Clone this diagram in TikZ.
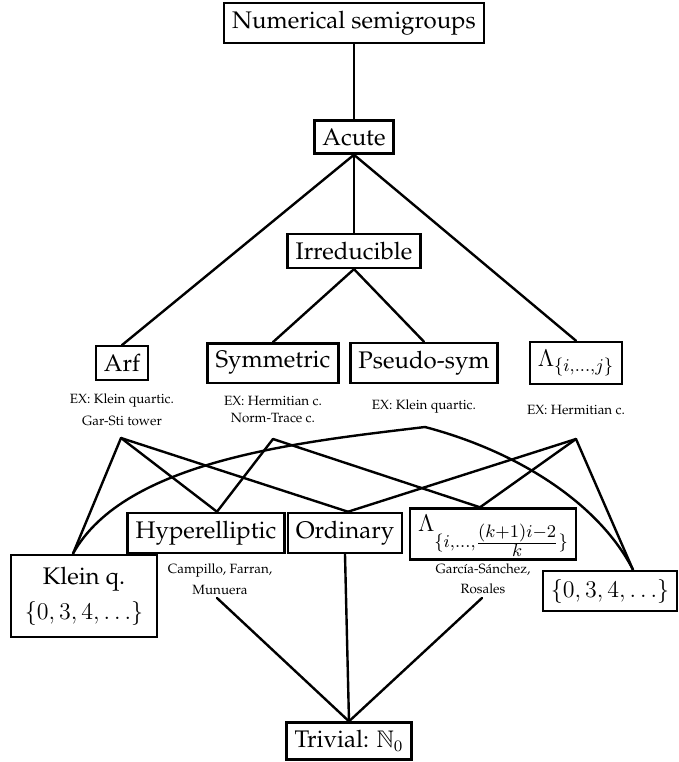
\documentclass[tikz,border=0pt]{standalone}
\usepackage[T1]{fontenc}
\usepackage{palatino}
\usepackage{amssymb}
\begin{document}
\begin{tikzpicture}[x=0.5pt,y=-0.5pt,
  box/.style={draw,line width=1.2pt,inner xsep=4pt,inner ysep=4pt,font=\fontsize{12}{15}\selectfont},
  note/.style={align=center,inner sep=0pt},
  link/.style={line width=1.2pt,line cap=round,line join=round},
  thinlink/.style={line width=0.7pt}]
\useasboundingbox (0,0) rectangle (679,762);
% main boxes
\node[box] (ns) at (354,23) {Numerical semigroups};
\node[box] (acute) at (354,137) {Acute};
\node[box] (irr) at (354,251) {Irreducible};
\node[box] (arf) at (122,363) {Arf};
\node[box] (sym) at (273,363) {Symmetric};
\node[box] (psym) at (424,363) {Pseudo-sym};
\node[box,font=\fontsize{12.5}{15}\selectfont] (lij) at (576,363) {$\Lambda_{\{i,\dots,j\}}$};
\node[box] (hyp) at (206,533) {Hyperelliptic};
\node[box] (ord) at (345,533) {Ordinary};
\node[box,inner ysep=3pt,text height=8.5pt,text depth=11pt,font=\fontsize{12.5}{15}\selectfont] (lk) at (493,534) {$\Lambda$\raisebox{-8pt}{$\scriptstyle\{i,\dots,\frac{\scriptstyle(k+1)i-2}{\scriptstyle k}\}$}};
\node[box,align=center,inner xsep=7pt,inner ysep=6pt,font=\fontsize{12}{17.5}\selectfont] (klein) at (84,596) {Klein q.\\$\{0,3,4,\dots\}$};
\node[box] (z) at (610,591) {$\{0,3,4,\dots\}$};
\node[box] (triv) at (349,741) {Trivial: $\mathbb{N}_0$};
% notes
\node[note,font=\fontsize{6.7}{11}\selectfont] (arfnote) at (122,410) {EX: Klein quartic.\\Gar-Sti tower};
\node[note,font=\fontsize{6.7}{8.5}\selectfont] (symnote) at (273,409) {EX: Hermitian c.\\Norm-Trace c.};
\node[note,font=\fontsize{6.7}{8.5}\selectfont] (psymnote) at (424,407) {EX: Klein quartic.};
\node[note,font=\fontsize{6.7}{8.5}\selectfont] (lijnote) at (576,410) {EX: Hermitian c.};
\node[note,font=\fontsize{6.7}{10.5}\selectfont] (hypnote) at (220,579) {Campillo, Farran,\\Munuera};
\node[note,font=\fontsize{6.7}{10}\selectfont] (lknote) at (483,579) {Garc\'{\i}a-S\'{a}nchez,\\Rosales};
% junction points
\coordinate (A) at (121,438);
\coordinate (S) at (273,439);
\coordinate (P) at (425,427);
\coordinate (L) at (576,439);
\coordinate (kt) at ([xshift=-5.5pt]klein.north);
\coordinate (ht) at ([xshift=5.5pt]hyp.north);
\coordinate (ot) at ([xshift=1.5pt]ord.north);
\coordinate (lkt) at ([xshift=-6.5pt]lk.north);
\coordinate (zt) at ([xshift=11.5pt]z.north);
\coordinate (hb) at (217,598);
\coordinate (lkb) at (482,598);
% connectors
\draw[thinlink] (ns) -- (acute);
\draw[line width=0.8pt] (acute.south) -- (irr.north);
\draw[link] (arf.north) -- (acute.south) -- (lij.north);
\draw[link] (sym.north) -- (irr.south) -- (psym.north);
\draw[link] (A) -- (kt);
\draw[link] (A) -- (ht);
\draw[link] (A) -- (ot);
\draw[link] (S) -- (ht);
\draw[link] (S) -- (lkt);
\draw[link] (P) .. controls (300,442) and (125,460) .. (kt);
\draw[link] (P) .. controls (520,452) and (600,505) .. (zt);
\draw[link] (L) -- (ot);
\draw[link] (L) -- (lkt);
\draw[link] (L) -- (zt);
\draw[link] (hb) -- (triv.north);
\draw[link] (ord.south) -- (triv.north);
\draw[link] (lkb) -- (triv.north);
\end{tikzpicture}
\end{document}
